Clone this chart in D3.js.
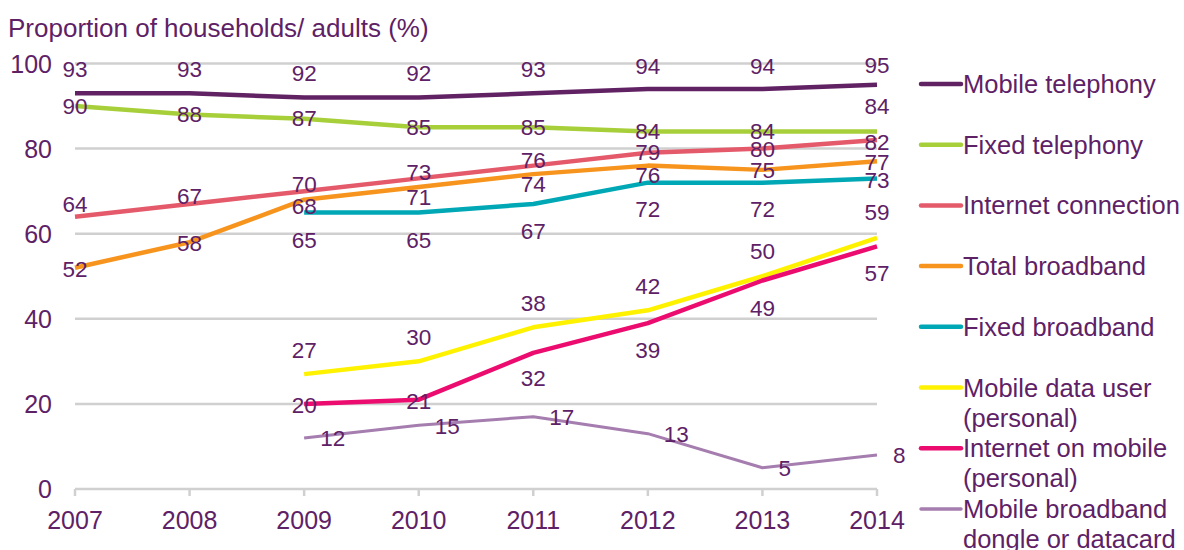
<!DOCTYPE html>
<html>
<head>
<meta charset="utf-8">
<script src="https://cdn.jsdelivr.net/npm/d3@7"></script>
<style>
  html, body { margin: 0; padding: 0; background: #fff; }
  svg { display: block; font-family: "Liberation Sans", Arial, sans-serif; }
</style>
</head>
<body>
<svg id="chart" width="1184" height="550"></svg>
<script>
// ---- Data ----
const years = [2007, 2008, 2009, 2010, 2011, 2012, 2013, 2014];
const yTicks = [0, 20, 40, 60, 80, 100];

const mobileTelephony   = [93, 93, 92, 92, 93, 94, 94, 95];
const fixedTelephony    = [90, 88, 87, 85, 85, 84, 84, 84];
const internetConn      = [64, 67, 70, 73, 76, 79, 80, 82];
const totalBroadband    = [52, 58, 68, 71, 74, 76, 75, 77];
const fixedBroadband    = [null, null, 65, 65, 67, 72, 72, 73];
const mobileDataUser    = [null, null, 27, 30, 38, 42, 50, 59];
const internetOnMobile  = [null, null, 20, 21, 32, 39, 49, 57];
const mobileDongle      = [null, null, 12, 15, 17, 13, 5, 8];

const seriesNames = [
  ["Mobile telephony"],
  ["Fixed telephony"],
  ["Internet connection"],
  ["Total broadband"],
  ["Fixed broadband"],
  ["Mobile data user", "(personal)"],
  ["Internet on mobile", "(personal)"],
  ["Mobile broadband", "dongle or datacard"]
];
const seriesValues = [mobileTelephony, fixedTelephony, internetConn, totalBroadband,
  fixedBroadband, mobileDataUser, internetOnMobile, mobileDongle];
const seriesColors = ["#612264", "#a7cf3a", "#e45a6b", "#f7941e", "#00a8b6", "#fff200", "#ec0b6f", "#a57daf"];
const seriesWidths = [4.5, 4.5, 4.5, 4.5, 4.5, 4.5, 4.5, 3];

// data label placement (vertical offset from point, px); dongle labels sit to the right
const labelDy = [
  [-24, -24, -24, -24, -24, -23, -23, -19],
  [0, 0, 0, 0, 0, 0, 0, -25],
  [-12, -7, -7, -6, -5, 0, 1, 2],
  [2, 1, 7, 11, 10, 10, 1, 1],
  [0, 0, 28, 28, 28, 27, 27, 2],
  [0, 0, -24, -24, -24, -24, -25, -25],
  [0, 0, 2, 2, 26, 27, 28, 27],
  [0, 0, 1, 1, 1, 1, 1, 1]
];
const labelRight = [false, false, false, false, false, false, false, true];

// ---- Layout ----
const textColor = "#5e2166";
const gridColor = "#d0d0d0";
const svg = d3.select("#chart");

const x = d3.scaleLinear().domain([2007, 2014]).range([75, 877]);
const y = d3.scaleLinear().domain([0, 100]).range([489, 63.5]);

// title
svg.append("text")
  .attr("x", 8).attr("y", 37)
  .attr("fill", textColor)
  .attr("font-size", 26)
  .text("Proportion of households/ adults (%)");

// gridlines
svg.append("g").selectAll("line")
  .data(yTicks)
  .join("line")
  .attr("x1", x.range()[0]).attr("x2", x.range()[1])
  .attr("y1", d => y(d)).attr("y2", d => y(d))
  .attr("stroke", gridColor).attr("stroke-width", 2.5);

// y tick labels
svg.append("g").selectAll("text")
  .data(yTicks)
  .join("text")
  .attr("x", 52).attr("y", d => y(d))
  .attr("text-anchor", "end")
  .attr("dominant-baseline", "central")
  .attr("fill", textColor)
  .attr("font-size", 25)
  .text(d => d);

// x axis ticks and labels
const xAxisG = svg.append("g");
xAxisG.selectAll("line")
  .data(years)
  .join("line")
  .attr("x1", d => x(d)).attr("x2", d => x(d))
  .attr("y1", y(0)).attr("y2", y(0) + 7)
  .attr("stroke", gridColor).attr("stroke-width", 2.5);
xAxisG.selectAll("text")
  .data(years)
  .join("text")
  .attr("x", d => x(d)).attr("y", 529)
  .attr("text-anchor", "middle")
  .attr("fill", textColor)
  .attr("font-size", 25)
  .text(d => d);

// lines
const line = d3.line()
  .defined(d => d.v != null)
  .x(d => x(d.t)).y(d => y(d.v));

const series = seriesValues.map((vals, i) => ({
  i,
  values: vals.map((v, j) => ({ t: years[j], v, dy: labelDy[i][j] }))
}));

svg.append("g").selectAll("path")
  .data(series)
  .join("path")
  .attr("fill", "none")
  .attr("stroke", d => seriesColors[d.i])
  .attr("stroke-width", d => seriesWidths[d.i])
  .attr("stroke-linejoin", "round")
  .attr("d", d => line(d.values));

// data labels
const labelG = svg.append("g");
series.forEach(s => {
  labelG.selectAll(null)
    .data(s.values.filter(d => d.v != null))
    .join("text")
    .attr("x", d => labelRight[s.i] ? x(d.t) + 16 : x(d.t))
    .attr("y", d => y(d.v) + d.dy)
    .attr("text-anchor", labelRight[s.i] ? "start" : "middle")
    .attr("dominant-baseline", "central")
    .attr("fill", textColor)
    .attr("font-size", 22.5)
    .text(d => d.v);
});

// legend
const legendRow0 = 84, legendStep = 60.7, lineH = 30;
const legend = svg.append("g");
seriesNames.forEach((lines, i) => {
  const cy = legendRow0 + i * legendStep;
  legend.append("line")
    .attr("x1", 921).attr("x2", 961)
    .attr("y1", cy).attr("y2", cy)
    .attr("stroke", seriesColors[i])
    .attr("stroke-width", i === 7 ? 3.5 : 4.5)
    .attr("stroke-linecap", "round");
  lines.forEach((t, k) => {
    legend.append("text")
      .attr("x", 963).attr("y", cy + k * lineH)
      .attr("dominant-baseline", "central")
      .attr("fill", textColor)
      .attr("font-size", 25.5)
      .text(t);
  });
});
</script>
</body>
</html>
